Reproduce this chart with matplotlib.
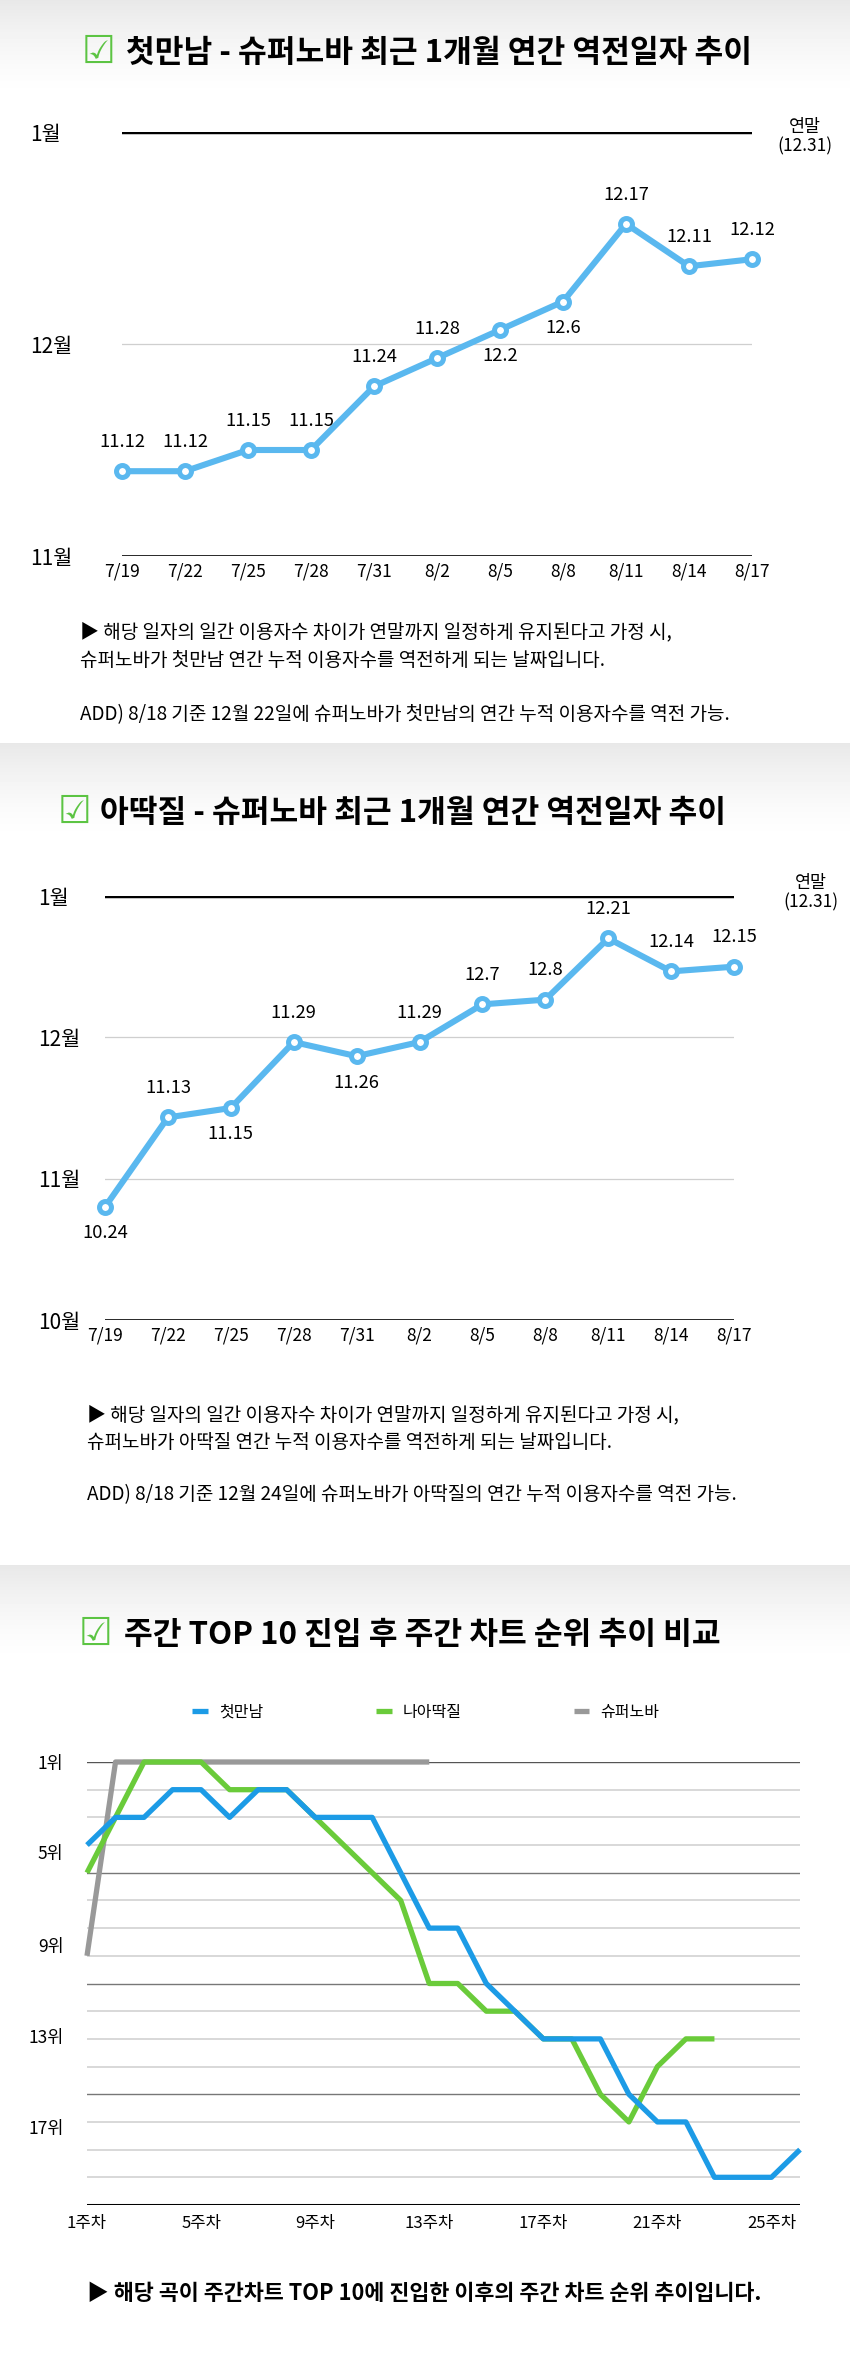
import numpy as np
import matplotlib
matplotlib.use('Agg')
import matplotlib.pyplot as plt

plt.rcParams['font.family'] = ['Noto Sans CJK KR', 'DejaVu Sans']

# 데이터
dates = ['7/19', '7/22', '7/25', '7/28', '7/31', '8/2', '8/5', '8/8', '8/11', '8/14', '8/17']
first_meet = ['11.12', '11.12', '11.15', '11.15', '11.24', '11.28', '12.2', '12.6', '12.17', '12.11', '12.12']
ttakjil = ['10.24', '11.13', '11.15', '11.29', '11.26', '11.29', '12.7', '12.8', '12.21', '12.14', '12.15']

weeks = list(range(1, 27))
rank_first_meet = [4, 3, 3, 2, 2, 3, 2, 2, 3, 3, 3, 5, 7, 7, 9, 10, 11, 11, 11, 13, 14, 14, 16, 16, 16, 15]
rank_ttakjil = [5, 3, 1, 1, 1, 2, 2, 2, 3, 4, 5, 6, 9, 9, 10, 10, 11, 11, 13, 14, 12, 11, 11]
rank_supernova = [8, 1, 1, 1, 1, 1, 1, 1, 1, 1, 1, 1, 1]
song_names = ['첫만남', '나아딱질', '슈퍼노바']

week_ticks = [1, 5, 9, 13, 17, 21, 25]
rank_labels = ['1위', '5위', '9위', '13위', '17위']

W, H = 850, 2359
BLUE = '#5ab8ef'


def box(l, t, r, b):
    return [l / W, 1 - b / H, (r - l) / W, (b - t) / H]


def fx(x):
    return x / W


def fy(y):
    return 1 - y / H


def date_pos(s):
    # 월.일 -> 10월 0일 기준 위치 (한 달 = 30)
    m, d = s.split('.')
    return (int(m) - 10) * 30 + int(d)


fig = plt.figure(figsize=(W / 100, H / 100), dpi=100)

# 배경 (섹션 위쪽 회색 그라데이션)
rows = np.arange(H)
grad = np.ones(H)
for s in [0, 743, 1565]:
    d = rows - s
    m = (d >= 0) & (d < 100)
    grad[m] = 1 - 0.09 * (1 - d[m] / 100) ** 1.5
bg = fig.add_axes([0, 0, 1, 1], zorder=-10)
bg.imshow(grad[:, None], cmap='gray', vmin=0, vmax=1, aspect='auto', extent=[0, 1, 0, 1])
bg.axis('off')


def title(x_box, x_text, y, text):
    fig.text(fx(x_box - 2), fy(y), '\u2611', color='#5cc443', fontsize=27, ha='left', va='center',
             family='DejaVu Sans')
    fig.text(fx(x_text), fy(y), text, fontsize=22.5, fontweight='bold', ha='left', va='center')


def date_chart(rect, ylim, yticks, ylabels, values, below, ypad, xlab_y):
    ax = fig.add_axes(rect)
    ax.set_facecolor('none')
    pos = [date_pos(v) for v in values]
    x = np.arange(len(values))
    ax.set_xlim(0, len(values) - 1)
    ax.set_ylim(*ylim)
    for t in yticks:
        if t == ylim[1]:
            ax.axhline(t, color='black', lw=2.5, zorder=1)
        elif t == ylim[0]:
            ax.axhline(t, color='black', lw=1.9, zorder=1)
        else:
            ax.axhline(t, color='#cfcfcf', lw=0.9, zorder=1)
    ax.plot(x, pos, color=BLUE, lw=4.4, marker='o', ms=8.6, mfc='white', mec=BLUE, mew=3.6,
            clip_on=False, zorder=3)
    for i, (xi, p, v) in enumerate(zip(x, pos, values)):
        off = -19 if i in below else 21
        ax.annotate(v, (xi, p), xytext=(0, off), textcoords='offset points', ha='center',
                    va='center', fontsize=13.2, zorder=4)
    ax.set_xticks(x, dates)
    ax.set_yticks(yticks, ylabels)
    ax.tick_params(axis='x', length=0, pad=xlab_y, labelsize=12.5)
    ax.tick_params(axis='y', length=0, pad=ypad, labelsize=15)
    for lab in ax.get_yticklabels():
        lab.set_ha('left')
    for sp in ax.spines.values():
        sp.set_visible(False)
    return ax


# 1) 첫만남 - 슈퍼노바
title(84, 126, 53, '첫만남 - 슈퍼노바 최근 1개월 연간 역전일자 추이')
date_chart(box(122, 132, 752, 556), (30, 90), [30, 60, 90], ['11월', '12월', '1월'],
           first_meet, {6, 7}, 66, 5)
fig.text(fx(805), fy(127), '연말', fontsize=12.5, ha='center', va='center')
fig.text(fx(805), fy(146), '(12.31)', fontsize=12.5, ha='center', va='center')

fig.text(fx(80), fy(632), '▶ 해당 일자의 일간 이용자수 차이가 연말까지 일정하게 유지된다고 가정 시,',
         fontsize=13.7, ha='left', va='center')
fig.text(fx(80), fy(661), '슈퍼노바가 첫만남 연간 누적 이용자수를 역전하게 되는 날짜입니다.',
         fontsize=13.7, ha='left', va='center')
fig.text(fx(80), fy(715), 'ADD) 8/18 기준 12월 22일에 슈퍼노바가 첫만남의 연간 누적 이용자수를 역전 가능.',
         fontsize=13.7, ha='left', va='center')

# 2) 아딱질 - 슈퍼노바
title(60, 100, 813, '아딱질 - 슈퍼노바 최근 1개월 연간 역전일자 추이')
date_chart(box(105, 896, 734, 1320), (0, 90), [0, 30, 60, 90], ['10월', '11월', '12월', '1월'],
           ttakjil, {0, 2, 4}, 48, 5)
fig.text(fx(811), fy(883), '연말', fontsize=12.5, ha='center', va='center')
fig.text(fx(811), fy(902), '(12.31)', fontsize=12.5, ha='center', va='center')

fig.text(fx(87), fy(1415), '▶ 해당 일자의 일간 이용자수 차이가 연말까지 일정하게 유지된다고 가정 시,',
         fontsize=13.7, ha='left', va='center')
fig.text(fx(87), fy(1442), '슈퍼노바가 아딱질 연간 누적 이용자수를 역전하게 되는 날짜입니다.',
         fontsize=13.7, ha='left', va='center')
fig.text(fx(87), fy(1495), 'ADD) 8/18 기준 12월 24일에 슈퍼노바가 아딱질의 연간 누적 이용자수를 역전 가능.',
         fontsize=13.7, ha='left', va='center')

# 3) 주간 차트 순위
title(81, 124, 1635, '주간 TOP 10 진입 후 주간 차트 순위 추이 비교')
ax3 = fig.add_axes(box(87, 1762, 800, 2205))
ax3.set_facecolor('none')
ax3.set_xlim(1, 26)
ax3.set_ylim(17, 1)
for r in range(1, 18):
    if r == 17:
        ax3.axhline(r, color='black', lw=2.2, zorder=1)
    elif r == 1:
        ax3.axhline(r, color='#555555', lw=1.0, zorder=1)
    elif r in (5, 9, 13):
        ax3.axhline(r, color='#777777', lw=1.0, zorder=1)
    else:
        ax3.axhline(r, color='#d5d5d5', lw=1.3, zorder=1)

l3 = ax3.plot(weeks[:len(rank_supernova)], rank_supernova, color='#999999', lw=3.8,
              solid_capstyle='butt', zorder=2, clip_on=False, label=song_names[2])
l2 = ax3.plot(weeks[:len(rank_ttakjil)], rank_ttakjil, color='#6acb3a', lw=3.8,
              solid_capstyle='butt', zorder=3, clip_on=False, label=song_names[1])
l1 = ax3.plot(weeks, rank_first_meet, color='#1c9be6', lw=3.8,
              solid_capstyle='butt', zorder=4, clip_on=False, label=song_names[0])

ax3.set_xticks(week_ticks, [f'{w}주차' for w in week_ticks])
# 원본 이미지의 순위 라벨 위치
ax3.set_yticks([1, 4.25, 7.6, 10.9, 14.2], rank_labels)
ax3.tick_params(axis='x', length=0, pad=7, labelsize=12)
ax3.tick_params(axis='y', length=0, pad=17, labelsize=12.5)
for sp in ax3.spines.values():
    sp.set_visible(False)

fig.legend([l1[0], l2[0], l3[0]], song_names, loc='center', bbox_to_anchor=(fx(426), fy(1712)),
           ncol=3, frameon=False, fontsize=11.5, handlelength=1.0, handletextpad=0.7,
           columnspacing=7.0)

fig.text(fx(87), fy(2293), '▶ 해당 곡이 주간차트 TOP 10에 진입한 이후의 주간 차트 순위 추이입니다.',
         fontsize=15.7, fontweight='bold', ha='left', va='center')

fig.savefig('out.png', dpi=100)
